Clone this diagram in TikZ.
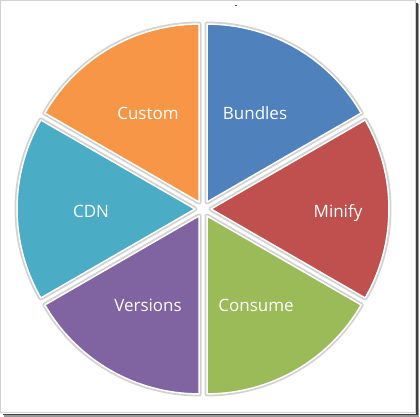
\documentclass[tikz,border=0pt]{standalone}
\usepackage{fontspec}
\setmainfont{Open Sans}
\usetikzlibrary{calc}
\definecolor{cOrange}{HTML}{F79646}
\definecolor{cBlue}{HTML}{4F81BD}
\definecolor{cRed}{HTML}{C0504D}
\definecolor{cGreen}{HTML}{9BBB59}
\definecolor{cPurple}{HTML}{8064A2}
\definecolor{cTeal}{HTML}{4BACC6}
\definecolor{cOutline}{HTML}{D2D2D2}
\tikzset{
  sliceouter/.style={draw=cOutline, line width=5pt, line join=round},
  sliceinner/.style={draw=white, line width=1.5pt, line join=round},
  lbl/.style={text=white, font=\fontsize{17}{20}\selectfont, anchor=base, inner sep=0pt},
}
\newcommand\pieslice[3]{%
  \pgfmathsetmacro\pmid{(#2+#3)/2}%
  \draw[sliceouter] ($(C)+(\pmid:8)$) -- ++(#2:178) arc[start angle=#2, end angle=#3, radius=178] -- cycle;
  \draw[sliceinner, fill=#1] ($(C)+(\pmid:8)$) -- ++(#2:178) arc[start angle=#2, end angle=#3, radius=178] -- cycle;
}
\begin{document}
\begin{tikzpicture}[x=1pt,y=1pt]
\useasboundingbox (0,0) rectangle (420,417);
\fill[white] (0,0) rectangle (420,417);
% frame
\draw[gray!35, line width=1pt] (0.5,416.5) -- (415.5,416.5) -- (415.5,4) ;
\draw[gray!35, line width=1pt] (0.5,416.5) -- (0.5,4) -- (415.5,4);
\draw[black!75, line width=1.6pt] (417,414) -- (417,2.6) -- (3,2.6);
\draw[black!40, line width=1.2pt] (418.8,413) -- (418.8,1) -- (4,1);
% pie
\coordinate (C) at (203,208);
\pieslice{cBlue}{30}{90}
\pieslice{cOrange}{90}{150}
\pieslice{cTeal}{150}{210}
\pieslice{cPurple}{210}{270}
\pieslice{cGreen}{270}{330}
\pieslice{cRed}{330}{390}
% labels
\node[lbl] (custom) at (148,297) {Custom};
\node[lbl] (bundles) at (255,297) {Bundles};
\node[lbl] (cdn) at (91,199.5) {CDN};
\node[lbl] (minify) at (338,199.5) {Minify};
\node[lbl] (versions) at (148,105.5) {Versions};
\node[lbl] (consume) at (256,105.5) {Consume};
\node[font=\fontsize{9}{10}\selectfont, inner sep=0pt] (dash) at (236,410) {-};
\end{tikzpicture}
\end{document}
